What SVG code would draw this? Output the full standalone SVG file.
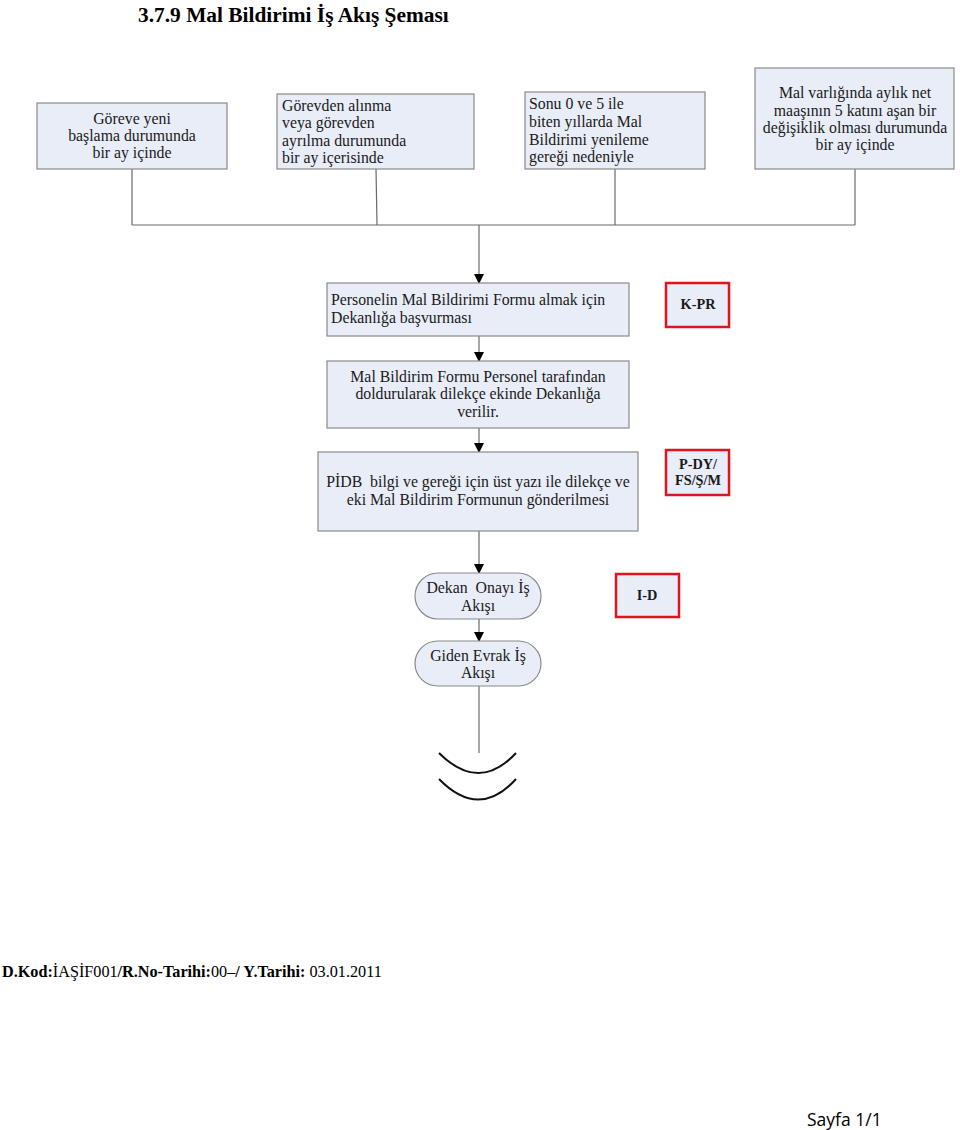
<svg xmlns="http://www.w3.org/2000/svg" width="960" height="1130" viewBox="0 0 960 1130">
<style>
.box{fill:#e9edf7;stroke:#8a8a8a;stroke-width:1.2}
.code{fill:#e9edf7;stroke:#e0141e;stroke-width:2.5}
.t{font-family:"Liberation Serif",serif;font-size:15.8px;fill:#1a1a1a}
.c{text-anchor:middle}
.b{font-weight:bold;font-size:14.3px}
.ln{stroke:#6a6a6a;stroke-width:1.2;fill:none}
.arc{stroke:#111;stroke-width:2;fill:none}
</style>
<defs>
<marker id="ah" markerWidth="10" markerHeight="10" refX="9" refY="5" orient="auto" markerUnits="userSpaceOnUse">
<path d="M0,0 L10,5 L0,10 Z" fill="#000"/>
</marker>
</defs>
<rect width="960" height="1130" fill="#fff"/>
<text x="138" y="22" style="font-family:'Liberation Serif',serif;font-size:21.4px;font-weight:bold" fill="#000">3.7.9 Mal Bildirimi İş Akış Şeması</text>

<g id="connectors">
<path class="ln" d="M132,169 V225"/>
<path class="ln" d="M376,169 L377,225"/>
<path class="ln" d="M615,169 V225"/>
<path class="ln" d="M855,169 V225"/>
<path class="ln" d="M132,225 H855"/>
<path class="ln" d="M479,225 V283" marker-end="url(#ah)"/>
<path class="ln" d="M479,336 V361" marker-end="url(#ah)"/>
<path class="ln" d="M479,428 V452" marker-end="url(#ah)"/>
<path class="ln" d="M479,531 V573" marker-end="url(#ah)"/>
<path class="ln" d="M479,619 V641" marker-end="url(#ah)"/>
<path class="ln" d="M479,686 V753"/>
<path class="arc" d="M439,753 Q479,793 516,753"/>
<path class="arc" d="M439,779 Q479,820 516,779"/>
</g>

<g id="n1">
<rect class="box" x="37" y="103" width="190" height="66"/>
<text class="t c" x="132" y="124">Göreve yeni</text>
<text class="t c" x="132" y="141">başlama durumunda</text>
<text class="t c" x="132" y="158">bir ay içinde</text>
</g>
<g id="n2">
<rect class="box" x="277" y="94" width="197" height="75"/>
<text class="t" x="282" y="111">Görevden alınma</text>
<text class="t" x="282" y="128">veya görevden</text>
<text class="t" x="282" y="146">ayrılma durumunda</text>
<text class="t" x="282" y="163">bir ay içerisinde</text>
</g>
<g id="n3">
<rect class="box" x="525" y="92" width="180" height="77"/>
<text class="t" x="529" y="109">Sonu 0 ve 5 ile</text>
<text class="t" x="529" y="127">biten yıllarda Mal</text>
<text class="t" x="529" y="145">Bildirimi yenileme</text>
<text class="t" x="529" y="162">gereği nedeniyle</text>
</g>
<g id="n4">
<rect class="box" x="755" y="68" width="199" height="101"/>
<text class="t c" x="855" y="98">Mal varlığında aylık net</text>
<text class="t c" x="855" y="116">maaşının 5 katını aşan bir</text>
<text class="t c" x="855" y="133">değişiklik olması durumunda</text>
<text class="t c" x="855" y="150">bir ay içinde</text>
</g>
<g id="n5">
<rect class="box" x="327" y="283" width="302" height="53"/>
<text class="t" x="331" y="305">Personelin Mal Bildirimi Formu almak için</text>
<text class="t" x="331" y="323">Dekanlığa başvurması</text>
</g>
<g id="kpr">
<rect class="code" x="666" y="283" width="63" height="44"/>
<text class="t c b" x="698" y="309">K-PR</text>
</g>
<g id="n6">
<rect class="box" x="327" y="361" width="302" height="67"/>
<text class="t c" x="478" y="382">Mal Bildirim Formu Personel tarafından</text>
<text class="t c" x="478" y="399">doldurularak dilekçe ekinde Dekanlığa</text>
<text class="t c" x="478" y="417">verilir.</text>
</g>
<g id="n7">
<rect class="box" x="318" y="452" width="320" height="79"/>
<text class="t c" x="478" y="487" xml:space="preserve">PİDB  bilgi ve gereği için üst yazı ile dilekçe ve</text>
<text class="t c" x="478" y="505">eki Mal Bildirim Formunun gönderilmesi</text>
</g>
<g id="pdy">
<rect class="code" x="666" y="450" width="63" height="45"/>
<text class="t c b" x="698" y="469">P-DY/</text>
<text class="t c b" x="698" y="485">FS/Ş/M</text>
</g>
<g id="n8">
<rect class="box" x="415" y="573" width="126" height="46" rx="23" ry="23"/>
<text class="t c" x="478" y="593" xml:space="preserve">Dekan  Onayı İş</text>
<text class="t c" x="478" y="611">Akışı</text>
</g>
<g id="id">
<rect class="code" x="616" y="574" width="63" height="43"/>
<text class="t c b" x="647" y="600">I-D</text>
</g>
<g id="n9">
<rect class="box" x="415" y="641" width="126" height="45" rx="22.5" ry="22.5"/>
<text class="t c" x="478" y="661">Giden Evrak İş</text>
<text class="t c" x="478" y="678">Akışı</text>
</g>

<text x="2" y="977" style="font-family:'Liberation Serif',serif;font-size:16.2px" fill="#000"><tspan font-weight="bold">D.Kod:</tspan>İAŞİF001<tspan font-weight="bold">/R.No-Tarihi:</tspan>00–<tspan font-weight="bold">/ Y.Tarihi:</tspan> 03.01.2011</text>
<text x="807" y="1126" style="font-family:'Open Sans',sans-serif;font-size:17.5px" fill="#000">Sayfa 1/1</text>
</svg>
